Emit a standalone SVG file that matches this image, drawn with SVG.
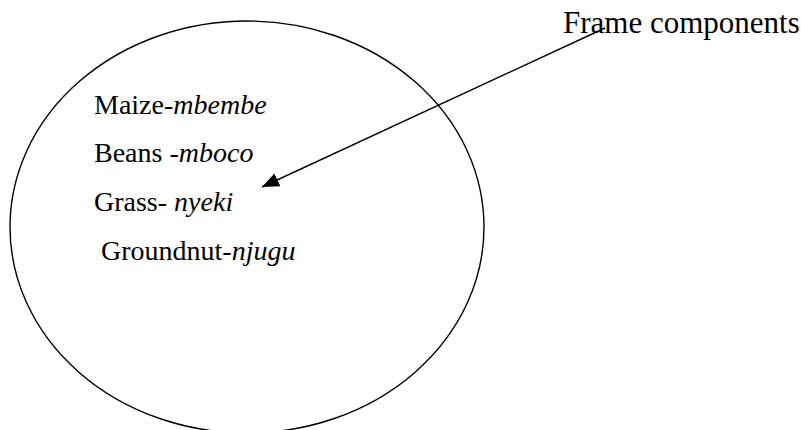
<svg xmlns="http://www.w3.org/2000/svg" width="801" height="430" viewBox="0 0 801 430">
  <style>
    .outline { fill: none; stroke: #000; stroke-width: 1.4; }
    text { font-family: 'Liberation Serif', 'Times New Roman', serif; fill: #000; }
    .term { font-size: 28px; }
    .label { font-size: 31px; }
    .link { stroke: #000; stroke-width: 1.4; fill: none; }
  </style>
  <defs>
    <marker id="arrowhead" viewBox="0 0 17 14" refX="17" refY="7" markerWidth="17" markerHeight="14" markerUnits="userSpaceOnUse" orient="auto">
      <path d="M0,0 L17,7 L0,14 z" fill="#000"/>
    </marker>
  </defs>
  <rect width="801" height="430" fill="#fff"/>

  <!-- the frame: an ellipse holding the crop terms; local names in italics -->
  <g id="frame">
    <ellipse class="outline" cx="247" cy="227" rx="237" ry="206"/>
    <text class="term" x="94" y="114" font-family="Liberation Serif">Maize-<tspan font-style="italic" font-family="Liberation Serif">mbembe</tspan></text>
    <text class="term" x="94" y="162" font-family="Liberation Serif">Beans -<tspan font-style="italic" font-family="Liberation Serif">mboco</tspan></text>
    <text class="term" x="94" y="211" font-family="Liberation Serif">Grass- <tspan font-style="italic" font-family="Liberation Serif">nyeki</tspan></text>
    <text class="term" x="101" y="260" font-family="Liberation Serif">Groundnut-<tspan font-style="italic" font-family="Liberation Serif">njugu</tspan></text>
  </g>

  <!-- caption naming the frame contents -->
  <g id="frame-label">
    <text class="label" x="563" y="33">Frame components</text>
  </g>

  <g id="connectors">
    <line class="link" x1="605" y1="28" x2="262" y2="187" marker-end="url(#arrowhead)"/>
  </g>
</svg>
